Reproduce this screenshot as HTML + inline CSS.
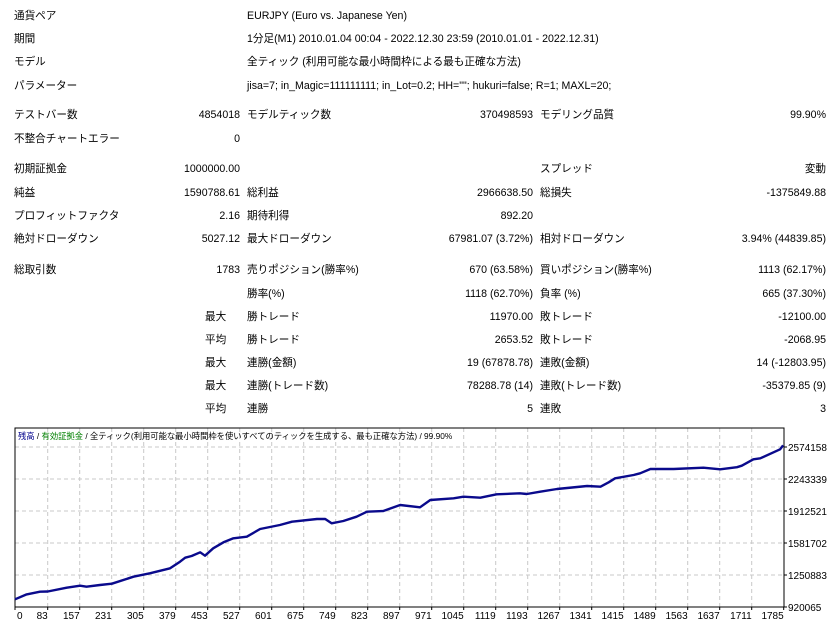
<!DOCTYPE html>
<html><head><meta charset="utf-8">
<style>
body{margin:0;width:837px;height:622px;background:#fff;overflow:hidden;position:relative;font-family:"Liberation Sans","Noto Sans CJK JP",sans-serif;font-size:10.6px;color:#000}
.t{position:absolute;white-space:nowrap;line-height:14px}
.r{text-align:right}
</style></head><body>
<div id="report"></div>
<svg id="chart" width="837" height="622" style="position:absolute;left:0;top:0" xmlns="http://www.w3.org/2000/svg"></svg>
<script>
const rows=[
[17,'通貨ペア','', 'EURJPY (Euro vs. Japanese Yen)','','','',''],
[40,'期間','', '1分足(M1) 2010.01.04 00:04 - 2022.12.30 23:59 (2010.01.01 - 2022.12.31)','','','',''],
[63,'モデル','', '全ティック (利用可能な最小時間枠による最も正確な方法)','','','',''],
[87,'パラメーター','', 'jisa=7; in_Magic=111111111; in_Lot=0.2; HH=""; hukuri=false; R=1; MAXL=20;','','','',''],
[116,'テストバー数','4854018','モデルティック数','370498593','モデリング品質','99.90%',''],
[140,'不整合チャートエラー','0','','','','',''],
[170,'初期証拠金','1000000.00','','','スプレッド','変動',''],
[194,'純益','1590788.61','総利益','2966638.50','総損失','-1375849.88',''],
[217,'プロフィットファクタ','2.16','期待利得','892.20','','',''],
[240,'絶対ドローダウン','5027.12','最大ドローダウン','67981.07 (3.72%)','相対ドローダウン','3.94% (44839.85)',''],
[271,'総取引数','1783','売りポジション(勝率%)','670 (63.58%)','買いポジション(勝率%)','1113 (62.17%)',''],
[295,'','','勝率(%)','1118 (62.70%)','負率 (%)','665 (37.30%)',''],
[318,'','','勝トレード','11970.00','敗トレード','-12100.00','最大'],
[341,'','','勝トレード','2653.52','敗トレード','-2068.95','平均'],
[364,'','','連勝(金額)','19 (67878.78)','連敗(金額)','14 (-12803.95)','最大'],
[387,'','','連勝(トレード数)','78288.78 (14)','連敗(トレード数)','-35379.85 (9)','最大'],
[410,'','','連勝','5','連敗','3','平均']
];
const rep=document.getElementById('report');
function addT(txt,x,y,right){
  if(!txt)return;
  const d=document.createElement('div');
  d.className='t'+(right?' r':'');
  
  
  d.textContent=txt;
  d.style.top=(y-8)+'px';
  if(right){d.style.left=(right-200)+'px';d.style.width='200px';}else d.style.left=x+'px';
  rep.appendChild(d);
}
rows.forEach(r=>{
  addT(r[1],14,r[0]);addT(r[2],0,r[0],240);addT(r[3],247,r[0]);
  addT(r[4],0,r[0],533);addT(r[5],540,r[0]);addT(r[6],0,r[0],826);
  addT(r[7],205,r[0]);
});
</script>
<script>
const xTickLabels=['0','83','157','231','305','379','453','527','601','675','749','823','897','971','1045','1119','1193','1267','1341','1415','1489','1563','1637','1711','1785'];
const yTickLabels=['920065','1250883','1581702','1912521','2243339','2574158'];
const yTickValues=[920065,1250883,1581702,1912521,2243339,2574158];
const trades=[0,27,58,76,120,151,166,197,225,275,313,360,383,395,410,430,441,460,484,507,538,569,615,643,701,720,735,762,793,817,855,894,940,964,1018,1041,1080,1118,1172,1188,1219,1258,1328,1359,1378,1393,1436,1451,1475,1529,1598,1637,1676,1687,1714,1730,1776,1783];
const equity=[1000000,1050000,1078000,1080000,1120000,1140000,1130000,1147000,1161000,1233000,1268000,1320000,1388000,1430000,1447000,1486000,1450000,1527000,1589000,1630000,1647000,1726000,1768000,1802000,1830000,1830000,1785000,1809000,1854000,1905000,1913000,1975000,1951000,2026000,2044000,2060000,2050000,2085000,2096000,2088000,2112000,2140000,2171000,2164000,2209000,2251000,2285000,2302000,2347000,2347000,2360000,2344000,2365000,2381000,2447000,2457000,2550000,2591000];

const svg=document.getElementById('chart');
const NS='http://www.w3.org/2000/svg';
const L=15,R=784,T=428,B=607,maxT=1785;
const yMin=920065,yStep=330818.6,yPx=32;
const xs=t=>L+t/maxT*(R-L);
const ys=v=>B-(v-yMin)/yStep*yPx;
const tickX=i=>i===0?L:47.7+32*(i-1);
function el(tag,attrs,name){const e=document.createElementNS(NS,tag);for(const k in attrs)e.setAttribute(k,attrs[k]);
  
  
  svg.appendChild(e);return e;}
xTickLabels.forEach((lb,i)=>{
  const x=tickX(i);
  if(i>0&&i<xTickLabels.length-1){el('line',{x1:x,x2:x,y1:T,y2:B,stroke:'#c8c8c8','stroke-dasharray':'4,3'},'x-grid-line');}
  el('line',{x1:x,x2:x,y1:B,y2:B+3,stroke:'#000'},'x-tick');
  const tx=el('text',{x:i===0?17:x,y:B+12,'font-size':'10','text-anchor':i===0?'start':'end','font-family':'Liberation Sans, sans-serif'},'x-tick-label');
  tx.textContent=lb;
});
yTickValues.forEach((v,i)=>{
  const y=ys(v);
  if(i>0){el('line',{x1:L,x2:R,y1:y,y2:y,stroke:'#c8c8c8','stroke-dasharray':'4,3'},'y-grid-line');}
  el('line',{x1:R,x2:R+3,y1:y,y2:y,stroke:'#000'},'y-tick');
  const tx=el('text',{x:R+4,y:y+4,'font-size':'10','font-family':'Liberation Sans, sans-serif'},'y-tick-label');
  tx.textContent=yTickLabels[i];
});
el('rect',{x:L,y:T,width:R-L,height:B-T,fill:'none',stroke:'#000','stroke-width':1},'plot-border');
const title=el('text',{x:18,y:439,'font-size':'8.3','font-family':'Liberation Sans, Noto Sans CJK JP, sans-serif'},'chart-legend');
title.innerHTML='<tspan fill="#00008b">残高</tspan> / <tspan fill="#008000">有効証拠金</tspan> / 全ティック(利用可能な最小時間枠を使いすべてのティックを生成する、最も正確な方法) / 99.90%';
let d='';
trades.forEach((t,i)=>{d+=(i?'L':'M')+xs(t).toFixed(1)+','+ys(equity[i]).toFixed(1);});
el('path',{d:d,fill:'none',stroke:'#0a0a8c','stroke-width':2.4,'stroke-linejoin':'round'},'balance-line');
</script>
</body></html>
